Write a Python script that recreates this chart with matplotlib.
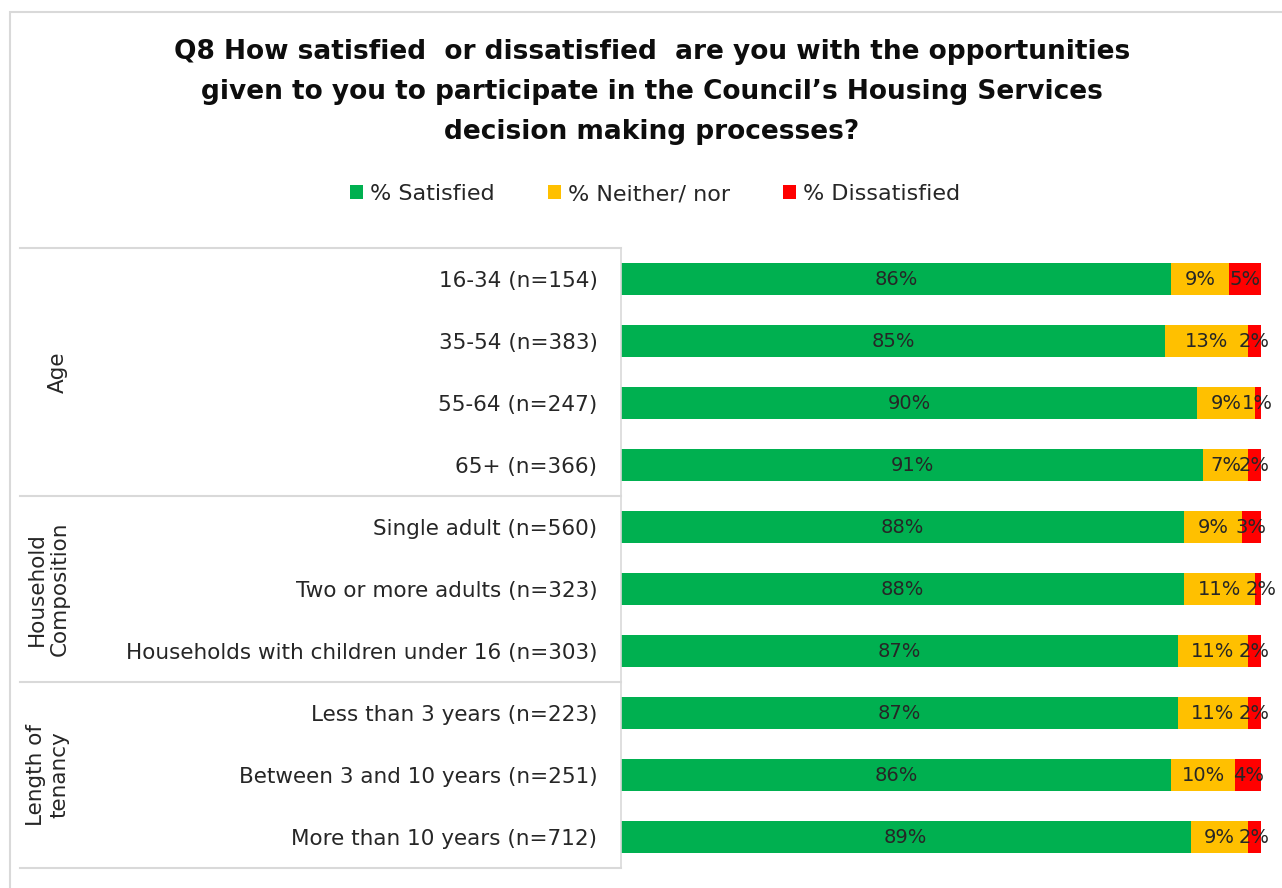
import matplotlib.pyplot as plt
from matplotlib.lines import Line2D
from matplotlib.patches import Rectangle

# Survey results, % of respondents per subgroup
categories = [
    "16-34 (n=154)",
    "35-54 (n=383)",
    "55-64 (n=247)",
    "65+ (n=366)",
    "Single adult (n=560)",
    "Two or more adults (n=323)",
    "Households with children under 16 (n=303)",
    "Less than 3 years (n=223)",
    "Between 3 and 10 years (n=251)",
    "More than 10 years (n=712)",
]
satisfied = [86, 85, 90, 91, 88, 88, 87, 87, 86, 89]
neither = [9, 13, 9, 7, 9, 11, 11, 11, 10, 9]
dissatisfied = [5, 2, 1, 2, 3, 2, 2, 2, 4, 2]

groups = ["Age", "Household\nComposition", "Length of\ntenancy"]
group_sizes = [4, 3, 3]

series_names = ["% Satisfied", "% Neither/ nor", "% Dissatisfied"]
colors = ["#00B050", "#FFC000", "#FF0000"]

plt.rcParams['font.family'] = ['DejaVu Sans']

W, H = 1282, 888
fig = plt.figure(figsize=(W / 100, H / 100), dpi=100)


def fx(px):
    return px / W


def fy(py):
    return 1 - py / H


# outer chart border
fig.patches.append(Rectangle((fx(10), fy(900)), fx(1290) - fx(10), fy(12) - fy(900),
                             transform=fig.transFigure, fill=False,
                             edgecolor="#d9d9d9", linewidth=1.5))

ax = fig.add_axes([fx(621), fy(868), fx(1261) - fx(621), fy(248) - fy(868)])

y = list(range(len(categories)))
left = [0] * len(categories)
for vals, name, col in zip([satisfied, neither, dissatisfied], series_names, colors):
    bars = ax.barh(y, vals, left=left, height=0.52, color=col, label=name)
    for b, v, l in zip(bars, vals, left):
        ax.text(l + v / 2, b.get_y() + b.get_height() / 2, f"{v}%",
                ha="center", va="center", fontsize=14, color="#262626",
                clip_on=False)
    left = [a + b for a, b in zip(left, vals)]

ax.set_xlim(0, 100)
ax.set_ylim(len(categories) - 0.5, -0.5)
ax.set_xticks([])
ax.set_yticks(y)
ax.set_yticklabels(categories, fontsize=15.5, color="#262626")
ax.tick_params(axis="y", length=0, pad=17)
for s in ["top", "right", "bottom"]:
    ax.spines[s].set_visible(False)
ax.spines["left"].set_color("#d9d9d9")
ax.spines["left"].set_linewidth(1.2)

# group separators and rotated group names
row_h = 62
top = 248
fig.add_artist(Line2D([fx(20), fx(621)], [fy(top), fy(top)], color="#d9d9d9", lw=1.5))
start = 0
for g, n in zip(groups, group_sizes):
    y0 = top + start * row_h
    y1 = top + (start + n) * row_h
    fig.add_artist(Line2D([fx(20), fx(621)], [fy(y1), fy(y1)], color="#d9d9d9", lw=1.5))
    fig.text(fx(48 if "\n" in g else 58), fy((y0 + y1) / 2), g, rotation=90,
             ha="center", va="center", fontsize=15.5, color="#262626",
             linespacing=1.2)
    start += n

fig.text(fx(652), fy(92),
         "Q8 How satisfied  or dissatisfied  are you with the opportunities\n"
         "given to you to participate in the Council\u2019s Housing Services\n"
         "decision making processes?",
         ha="center", va="center", fontsize=19, fontweight="bold",
         color="#0d0d0d", linespacing=1.7)

fig.legend(loc="center", bbox_to_anchor=(fx(655), fy(194)), ncol=3,
           frameon=False, fontsize=16, handlelength=0.6, handleheight=0.6,
           handletextpad=0.3, columnspacing=2.4, labelcolor="#262626")

fig.savefig("out.png", dpi=100)
